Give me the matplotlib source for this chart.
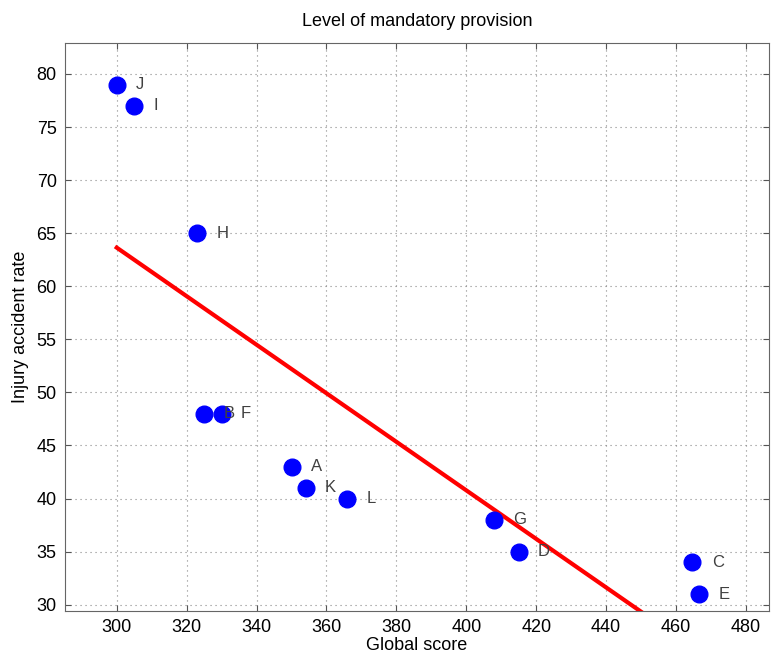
import numpy as np
import matplotlib.pyplot as plt

plt.rcParams['font.family'] = ['Liberation Sans', 'DejaVu Sans']

# data
labels = ['J', 'I', 'H', 'B', 'F', 'A', 'K', 'L', 'G', 'D', 'C', 'E']
score = [300, 305, 323, 325, 330, 350, 354, 366, 408, 415, 464.7, 466.7]
rate = [79, 77, 65, 48, 48, 43, 41, 40, 38, 35, 34, 31]

x = np.array(score, dtype=float)
y = np.array(rate, dtype=float)
slope, intercept = np.polyfit(x, y, 1)

fig = plt.figure(figsize=(7.71, 6.54), dpi=100)
ax = fig.add_axes([0.0843, 0.0657, 0.9127, 0.8683])

xx = np.array([x.min(), x.max()])
ax.plot(xx, slope * xx + intercept, color='red', lw=3, zorder=2)
ax.plot(x, y, 'o', color='blue', markersize=12, zorder=3)

for lab, xi, yi in zip(labels, x, y):
    ax.text(xi + 5.5, yi, lab, fontsize=12, color='#404040', va='center', ha='left', zorder=4)

ax.set_xlim(285.2, 486.5)
ax.set_ylim(29.4, 82.9)
ax.set_xticks(np.arange(300, 481, 20))
ax.set_yticks(np.arange(30, 81, 5))

ax.grid(True, linestyle=(0, (1, 3.5)), color='#888888', lw=0.8)
ax.set_axisbelow(True)
ax.tick_params(direction='in', top=True, right=True, labelsize=13, length=4,
               color='#555555', pad=6)
for s in ax.spines.values():
    s.set_color('#666666')

ax.set_title('Level of mandatory provision', fontsize=13, pad=12)
ax.set_xlabel('Global score', fontsize=13, labelpad=0.5)
ax.set_ylabel('Injury accident rate', fontsize=13, labelpad=5)

plt.savefig('out.png', dpi=100)
